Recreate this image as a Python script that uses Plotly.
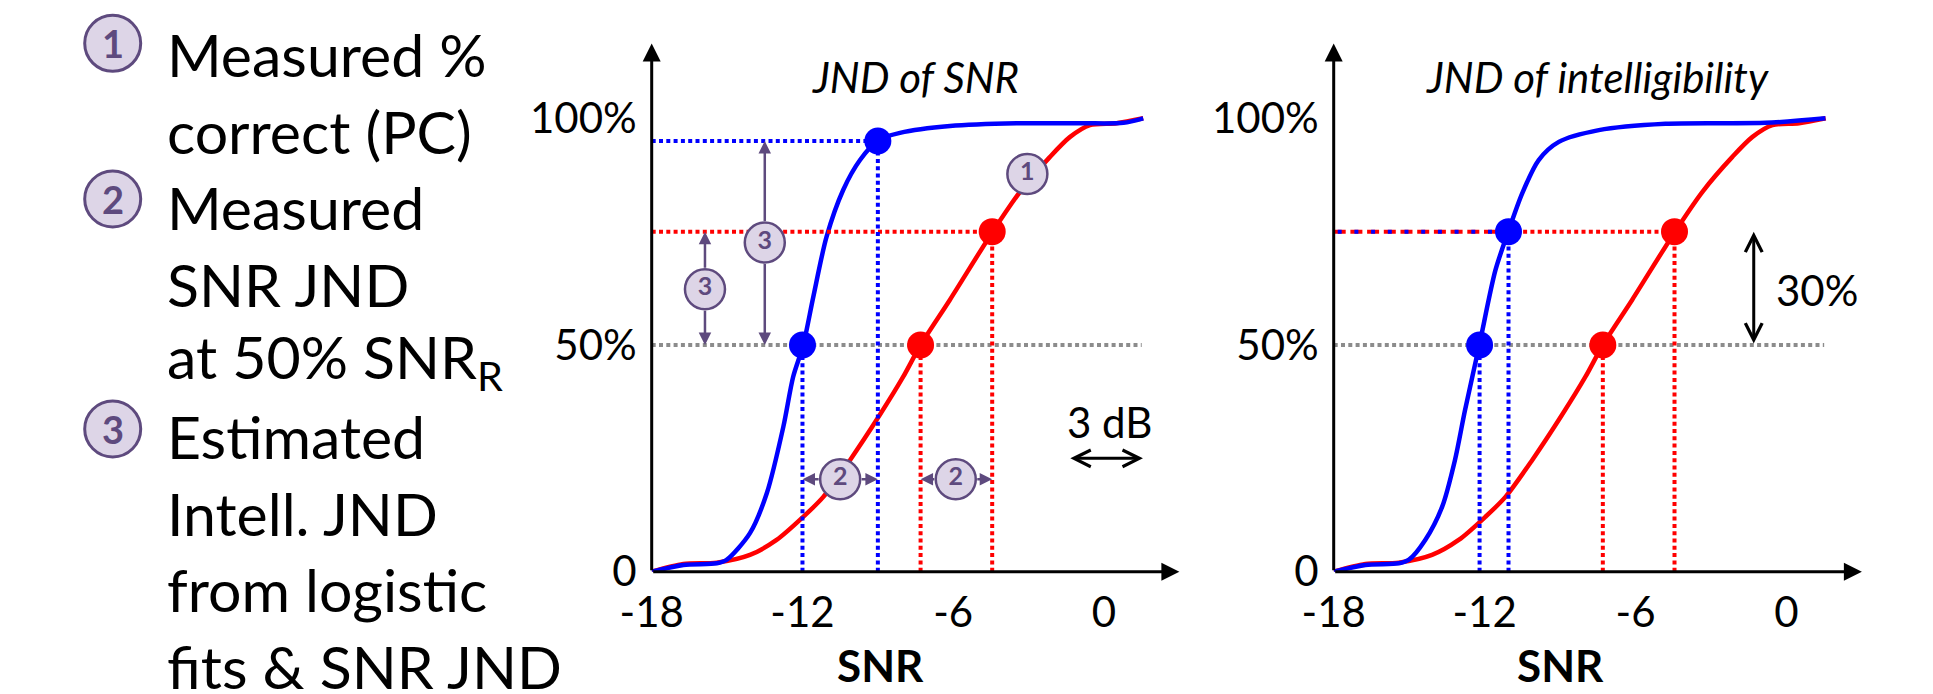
import plotly.graph_objects as go

W, H = 1933, 694
FONT = "Lato"
BLUE, RED, GRAY = "#0000ff", "#ff0000", "#8c8c8c"
PURPLE, LAVENDER = "#5e4a7e", "#ddd5e7"

# ---------------- data ----------------
snr_tickvals = [-18, -12, -6, 0]
snr_ticktext = ["-18", "-12", "-6", "0"]
pc_tickvals = [0, 50, 100]
pc_ticktext = ["0", "50%", "100%"]

# logistic fit curves (SNR in dB, percent correct)
blue_snr_left = [-18, -16.74, -15.41, -15.02, -14.09, -13.42, -12.76, -12.37, -11.97, -11.57,
                 -11.04, -10.38, -9.71, -8.98, -8.12, -6.13, -3.48, -0.83, 0.77, 1.56]
blue_pc_left = [0, 1.5, 1.85, 2.6, 8.5, 17.3, 32, 43, 50, 60.6,
                73.9, 84.2, 90.8, 95.2, 96.8, 98.3, 98.9, 98.9, 99, 100]

blue_snr_right = [-18, -16.74, -15.41, -15.02, -14.36, -13.69, -13.18, -12.78, -12.21, -11.57,
                  -11.06, -10.51, -9.85, -9.05, -7.46, -4.81, -0.84, 1.55]
blue_pc_right = [0, 1.5, 1.85, 2.6, 7, 14.3, 24.6, 35.6, 50, 66.5,
                 75, 83.4, 90.8, 94.8, 97.4, 98.8, 99, 100]

red_snr = [-18, -16.74, -15.41, -14.09, -13.03, -11.97, -11.17, -10.11, -8.92, -7.99,
           -7.3, -6.13, -4.43, -3.34, -2.15, -1.35, -0.56, 0.5, 1.56]
red_pc = [0, 1.7, 2.0, 3.7, 7, 12.1, 16.5, 24.6, 34.6, 43,
          50, 60, 75, 83.8, 91.5, 95.9, 98.5, 98.9, 100]

# measured points
left_blue_pts_snr = [-12.0, -9.0]
left_blue_pts_pc = [50, 95]
right_blue_pts_snr = [-12.2, -11.05]
right_blue_pts_pc = [50, 75]
red_pts_snr = [-7.3, -4.45]
red_pts_pc = [50, 75]

ref_pc = 50
ref_snr_end = 1.5

legend_lines = ["Measured %", "correct (PC)", "Measured", "SNR JND", "at 50% SNR<sub>R</sub>",
                "Estimated", "Intell. JND", "from logistic", "fits &amp; SNR JND"]
legend_nums = ["1", "2", "3"]

# ---------------- figure ----------------
fig = go.Figure()

XD1 = [651.7 / W, 1179.4 / W]
XD2 = [1333.7 / W, 1861.9 / W]
YD = [1 - 571.7 / H, 1 - 43.5 / H]
XR = [-18, 3]
YR = [0, 116.5]

DOT = "4px,3.3px"
LW = 4


def seg(xa, ya, xs, ys, color, dash):
    fig.add_trace(go.Scatter(x=xs, y=ys, mode="lines", line=dict(color=color, width=LW, dash=dash),
                             xaxis=xa, yaxis=ya, hoverinfo="skip"))


def add_panel(xa, ya, blue_x, blue_y, bpx, bpy, overlay=False):
    fig.add_trace(go.Scatter(x=red_snr, y=red_pc, mode="lines", line=dict(color=RED, width=4.5, shape="spline", smoothing=0.8),
                             xaxis=xa, yaxis=ya, hoverinfo="skip"))
    fig.add_trace(go.Scatter(x=blue_x, y=blue_y, mode="lines", line=dict(color=BLUE, width=4.5, shape="spline", smoothing=0.8),
                             xaxis=xa, yaxis=ya, hoverinfo="skip"))
    seg(xa, ya, [XR[0], ref_snr_end], [ref_pc, ref_pc], GRAY, DOT)
    shared = {}
    if overlay:
        for sx, pc in zip(bpx, bpy):
            if pc != ref_pc:
                shared[pc] = sx
    for sx, pc in zip(red_pts_snr, red_pts_pc):
        seg(xa, ya, [sx, sx], [0, pc], RED, DOT)
        if pc != ref_pc:
            if pc in shared:
                seg(xa, ya, [XR[0], shared[pc]], [pc, pc], RED, "12px,4.7px")
                seg(xa, ya, [shared[pc], sx], [pc, pc], RED, DOT)
            else:
                seg(xa, ya, [XR[0], sx], [pc, pc], RED, DOT)
    for sx, pc in zip(bpx, bpy):
        seg(xa, ya, [sx, sx], [0, pc], BLUE, DOT)
        if pc != ref_pc:
            seg(xa, ya, [XR[0], sx], [pc, pc], BLUE, "0px,4px,4px,8.7px" if pc in shared else DOT)
    fig.add_trace(go.Scatter(x=red_pts_snr, y=red_pts_pc, mode="markers", marker=dict(color=RED, size=27),
                             xaxis=xa, yaxis=ya, hoverinfo="skip"))
    fig.add_trace(go.Scatter(x=bpx, y=bpy, mode="markers", marker=dict(color=BLUE, size=27),
                             xaxis=xa, yaxis=ya, hoverinfo="skip"))


add_panel("x", "y", blue_snr_left, blue_pc_left, left_blue_pts_snr, left_blue_pts_pc)
add_panel("x2", "y2", blue_snr_right, blue_pc_right, right_blue_pts_snr, right_blue_pts_pc, overlay=True)

annotations = []


def arrow(xr, yr, tip, tail, color, width, head, size, sso=0, both=False):
    d = dict(x=tip[0], y=tip[1], ax=tail[0], ay=tail[1], xref=xr, yref=yr, axref=xr, ayref=yr,
             showarrow=True, arrowhead=head, arrowsize=size, arrowwidth=width, arrowcolor=color,
             startstandoff=sso, standoff=0, text="")
    if both:
        d.update(arrowside="end+start", startarrowhead=head, startarrowsize=size)
    annotations.append(d)


# circled labels inside the left chart
circ_x = [-3.05, -15.88, -13.5, -10.5, -5.9]
circ_y = [87.7, 62.3, 72.6, 20.4, 20.4]
circ_t = ["1", "3", "3", "2", "2"]
arrow("x", "y", (-15.88, 50), (-15.88, 62.3), PURPLE, 2.5, 2, 1, 20)
arrow("x", "y", (-15.88, 75), (-15.88, 62.3), PURPLE, 2.5, 2, 1, 20)
arrow("x", "y", (-13.5, 50), (-13.5, 72.6), PURPLE, 2.5, 2, 1, 20)
arrow("x", "y", (-13.5, 95), (-13.5, 72.6), PURPLE, 2.5, 2, 1, 20)
arrow("x", "y", (-12.0, 20.4), (-10.5, 20.4), PURPLE, 2.5, 2, 1, 20)
arrow("x", "y", (-9.0, 20.4), (-10.5, 20.4), PURPLE, 2.5, 2, 1, 20)
arrow("x", "y", (-7.3, 20.4), (-5.9, 20.4), PURPLE, 2.5, 2, 1, 20)
arrow("x", "y", (-4.45, 20.4), (-5.9, 20.4), PURPLE, 2.5, 2, 1, 20)

fig.add_trace(go.Scatter(x=circ_x, y=circ_y, mode="markers+text", text=["<b>%s</b>" % t for t in circ_t],
                         textposition="middle center",
                         textfont=dict(family=FONT, size=25, color=PURPLE),
                         marker=dict(size=40, color=LAVENDER, line=dict(color=PURPLE, width=2.5)),
                         xaxis="x", yaxis="y", hoverinfo="skip", cliponaxis=False))

# axis arrows
for xr, yr in [("x", "y"), ("x2", "y2")]:
    arrow(xr, yr, (XR[1], 0), (XR[0], 0), "black", 3, 2, 1.2)
    arrow(xr, yr, (XR[0], YR[1]), (XR[0], 0), "black", 3, 2, 1.2)

# 3 dB and 30% arrows
arrow("x", "y", (1.55, 25), (-1.4, 25), "black", 3, 5, 1.1, both=True)
arrow("x2", "y2", (-1.3, 75), (-1.3, 50), "black", 3, 5, 1.1, both=True)

txt = dict(family=FONT, size=42, color="black")
snr_y_dom = -20.6 / YR[1]
annotations += [
    dict(x=-1.55, y=33.1, xref="x", yref="y", text="3 dB", showarrow=False, xanchor="left", yanchor="middle", font=txt),
    dict(x=-0.5, y=62.1, xref="x2", yref="y2", text="30%", showarrow=False, xanchor="left", yanchor="middle", font=txt),
    dict(x=-7.5, y=109.2, xref="x", yref="y", text="<i>JND of SNR</i>", showarrow=False, xanchor="center", yanchor="middle", font=txt),
    dict(x=-7.5, y=109.2, xref="x2", yref="y2", text="<i>JND of intelligibility</i>", showarrow=False, xanchor="center", yanchor="middle", font=txt),
    dict(x=-8.9, y=snr_y_dom, xref="x", yref="y domain", text="<b>SNR</b>", showarrow=False, xanchor="center", yanchor="middle", font=dict(family=FONT, size=44, color="black")),
    dict(x=-9.0, y=snr_y_dom, xref="x2", yref="y2 domain", text="<b>SNR</b>", showarrow=False, xanchor="center", yanchor="middle", font=dict(family=FONT, size=44, color="black")),
]

# left-hand explanatory text
FS = 59
for i, line in enumerate(legend_lines):
    baseline = 78 + 76.4 * i
    annotations.append(dict(x=165 / W, y=1 - (baseline - 0.39 * FS) / H, xref="paper", yref="paper",
                            text=line, showarrow=False, xanchor="left", yanchor="middle",
                            font=dict(family=FONT, size=FS, color="black")))

shapes = []
bullet_y = [43.3, 199, 429]
for n, by in zip(legend_nums, bullet_y):
    shapes.append(dict(type="circle", xref="paper", yref="paper", xsizemode="pixel", ysizemode="pixel",
                       xanchor=112.7 / W, yanchor=1 - by / H, x0=-28, x1=28, y0=-28, y1=28,
                       fillcolor=LAVENDER, line=dict(color=PURPLE, width=3)))
    annotations.append(dict(x=112.7 / W, y=1 - by / H, xref="paper", yref="paper", text="<b>%s</b>" % n,
                            showarrow=False, xanchor="center", yanchor="middle",
                            font=dict(family=FONT, size=38, color=PURPLE)))

axis_common = dict(range=XR, showgrid=False, zeroline=False, showline=False, ticks="", automargin=False,
                   tickvals=snr_tickvals, ticktext=snr_ticktext, tickfont=dict(family=FONT, size=42, color="black"),
                   ticklabelstandoff=12, fixedrange=True)
yaxis_common = dict(range=YR, domain=YD, showgrid=False, zeroline=False, showline=False, ticks="", automargin=False,
                    tickvals=pc_tickvals, ticktext=pc_ticktext, tickfont=dict(family=FONT, size=42, color="black"),
                    ticklabelstandoff=14, fixedrange=True)

fig.update_layout(
    width=W, height=H, margin=dict(l=0, r=0, t=0, b=0, autoexpand=False),
    paper_bgcolor="white", plot_bgcolor="white", showlegend=False,
    xaxis=dict(domain=XD1, anchor="y", **axis_common),
    yaxis=dict(anchor="x", **yaxis_common),
    xaxis2=dict(domain=XD2, anchor="y2", **axis_common),
    yaxis2=dict(anchor="x2", **yaxis_common),
    annotations=annotations, shapes=shapes,
    font=dict(family=FONT),
)

fig.write_html("out.html", config={"displayModeBar": False},
               post_script="document.body.style.margin='0';document.body.style.overflow='hidden';")
